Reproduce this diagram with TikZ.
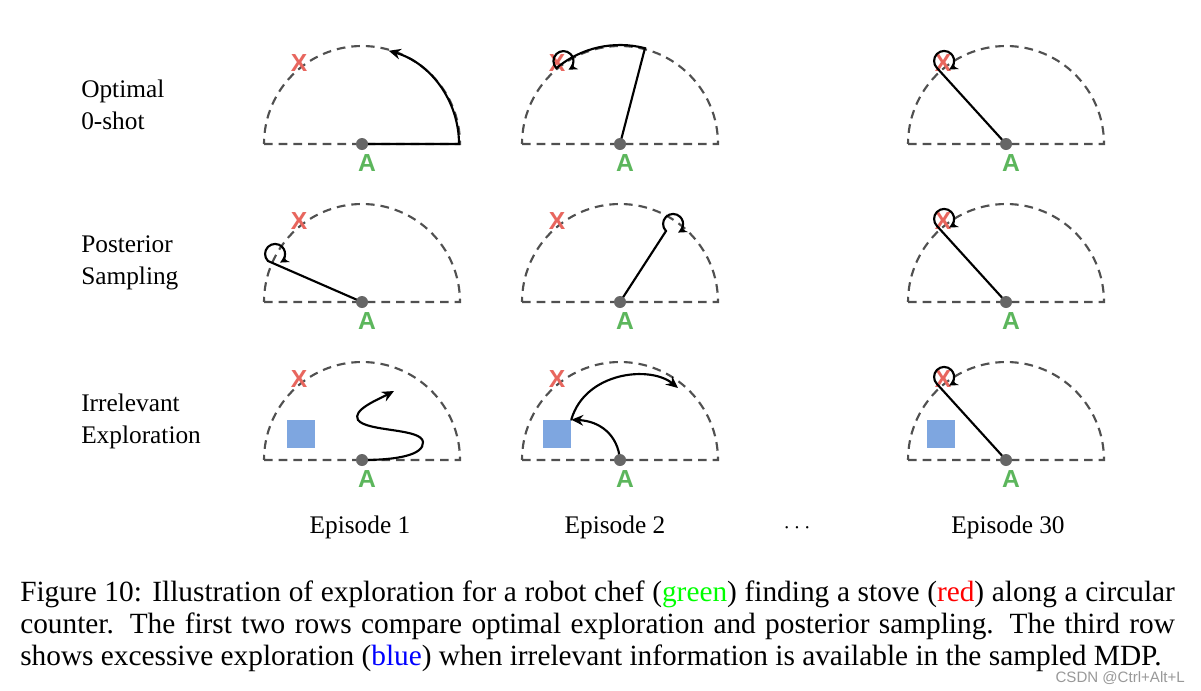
\documentclass[tikz,border=0pt]{standalone}
\usepackage{fontspec}
\setmainfont{Liberation Serif}
\newfontfamily\markfont{Liberation Sans}
\usetikzlibrary{arrows.meta}

\definecolor{stoveRed}{RGB}{232,102,94}
\definecolor{chefGreen}{RGB}{92,182,92}
\definecolor{infoBlue}{RGB}{126,166,224}
\definecolor{rimGray}{RGB}{80,80,80}
\definecolor{dotGray}{RGB}{102,102,102}

\tikzset{
  rim/.style={color=rimGray, line width=1.6pt, dash pattern=on 6.5pt off 4.5pt},
  walk/.style={line width=1.6pt, line cap=round},
  longtip/.style={-{Stealth[length=9pt,width=8pt,inset=3pt]}},
  looptip/.style={-{Stealth[length=6.5pt,width=6.5pt,inset=2pt]}},
  agent/.style={circle, fill=dotGray, inner sep=0pt, minimum size=9pt},
  chef/.style={text=chefGreen, inner sep=0pt, font=\markfont\bfseries\fontsize{18.5}{18.5}\selectfont},
  stove/.style={text=stoveRed, inner sep=0pt, font=\markfont\bfseries\fontsize{18.5}{18.5}\selectfont},
  info/.style={fill=infoBlue, inner sep=0pt, minimum size=21pt},
  rowlabel/.style={anchor=west, align=left, inner sep=0pt, font=\fontsize{19}{24}\selectfont},
  eplabel/.style={anchor=base, inner sep=0pt, font=\fontsize{19}{24}\selectfont},
  capline/.style={anchor=base west, inner sep=0pt, font=\fontsize{22}{24}\selectfont},
  watermark/.style={anchor=base east, inner sep=0pt, text=black!40, font=\markfont\fontsize{11.3}{12}\selectfont}
}

\begin{document}
\begin{tikzpicture}[x=0.75pt,y=0.75pt,yscale=-1,xscale=1]
  \fill[white] (0,0) rectangle (1201,690);
  \useasboundingbox (0,0) rectangle (1201,690);

  % counters, stoves
  \foreach \cx/\c in {362/1,620/2,1006/3}
    \foreach \cy/\r in {144/1,302/2,460/3}{
      \draw[rim] (\cx-98,\cy) -- (\cx+98,\cy) arc[start angle=0,end angle=-180,radius=98];
      \node[stove] (x\r\c) at (\cx-63,\cy-81) {X};
      \coordinate (a\r\c) at (\cx,\cy);
    }

  % irrelevant information
  \node[info] (info31) at (301,434) {};
  \node[info] (info32) at (557,434) {};
  \node[info] (info33) at (941,434) {};

  % optimal 0-shot
  \draw[walk,longtip] (a11) -- ++(97,0) arc[start angle=0,end angle=-74,radius=97];
  \draw[walk,looptip] (a12) -- ++(-75.4:99) arc[start angle=-75.4,end angle=-130,radius=99]
        arc[start angle=135,end angle=420,radius=10];
  \draw[walk,looptip] (a13) -- ++(-69,-76) arc[start angle=135,end angle=420,radius=10];

  % posterior sampling
  \draw[walk,looptip] (a21) -- ++(-94,-41) arc[start angle=135,end angle=420,radius=10];
  \draw[walk,looptip] (a22) -- ++(46,-71) arc[start angle=135,end angle=420,radius=10];
  \draw[walk,looptip] (a23) -- ++(-69,-76) arc[start angle=135,end angle=420,radius=10];

  % irrelevant exploration
  \draw[walk,longtip] (a31) .. controls (397,460) and (424,455) .. (423,442)
        .. controls (422,428) and (367,432) .. (358,420)
        .. controls (352,410) and (377,400) .. (394,391);
  \coordinate (e32) at (678,388);
  \draw[walk,longtip] (a32) .. controls (618,435) and (600,421) .. (info32.north east);
  \draw[walk,longtip] (info32.north east) .. controls (585,372) and (650,365) .. (e32);
  \draw[walk,looptip] (a33) -- ++(-69,-76) arc[start angle=135,end angle=420,radius=10];

  % chef
  \foreach \cx/\c in {362/1,620/2,1006/3}
    \foreach \cy/\r in {144/1,302/2,460/3}{
      \node[agent] (dot\r\c) at (a\r\c) {};
      \node[chef] (lab\r\c) at (\cx+5,\cy+19) {A};
    }

  \node[rowlabel] (row1) at (81,105) {Optimal\\0-shot};
  \node[rowlabel] (row2) at (81,263) {Posterior\\Sampling};
  \node[rowlabel] (row3) at (81,421) {Irrelevant\\Exploration};

  \node[eplabel] (ep1) at (360,533) {Episode 1};
  \node[eplabel] (ep2) at (615,533) {Episode 2};
  \node[eplabel] (epdots) at (797,533) {$\cdots$};
  \node[eplabel] (ep30) at (1008,533) {Episode 30};

  \node[capline] (cap1) at (20,601) {\makebox[866pt][s]{Figure 10: Illustration of exploration for a robot chef ({\color{green}green}) finding a stove ({\color{red}red}) along a circular}};
  \node[capline] (cap2) at (20,633) {\makebox[866pt][s]{counter.  The first two rows compare optimal exploration and posterior sampling.  The third row}};
  \node[capline] (cap3) at (20,665) {shows excessive exploration ({\color{blue}blue}) when irrelevant information is available in the sampled MDP.};
  \node[watermark] (wm) at (1185,682) {CSDN @Ctrl+Alt+L};
\end{tikzpicture}
\end{document}
